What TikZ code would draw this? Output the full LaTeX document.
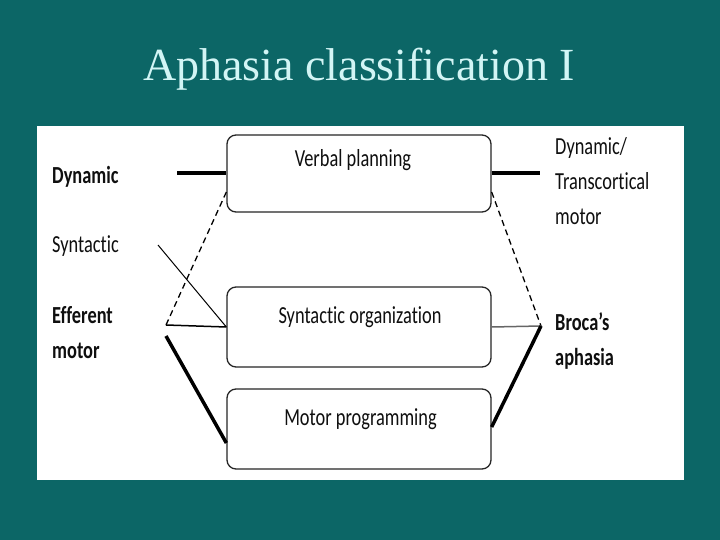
\documentclass[tikz,border=0pt]{standalone}
\usepackage{fontspec}
\setmainfont{Liberation Serif}
\newfontfamily\labfont[Ligatures=NoCommon]{Carlito}
\usepackage{graphicx}
\definecolor{tealbg}{RGB}{12,102,102}
\definecolor{titlec}{RGB}{210,245,245}
\definecolor{inkc}{RGB}{15,15,15}
\newcommand{\nar}[1]{\scalebox{0.75}[1]{#1}}
\begin{document}
\begin{tikzpicture}[x=1pt,y=-1pt,
  box/.style={draw=black!85, line width=1.3pt, rounded corners=9pt, minimum width=264pt, inner sep=0pt, fill=white},
  boxtext/.style={anchor=base, inner sep=0pt, text=inkc, font=\labfont\fontsize{24.5}{28}\selectfont},
  lab/.style={anchor=base west, inner sep=0pt, text=inkc, font=\labfont\fontsize{24.5}{35}\selectfont},
  thickln/.style={line width=4pt, black},
  medln/.style={line width=3.5pt, black},
  dashln/.style={line width=1.3pt, black, dash pattern=on 6pt off 4pt},
  thinln/.style={line width=1pt, black}]
\useasboundingbox (0,0) rectangle (720,540);
\fill[tealbg] (0,0) rectangle (720,540);
\node[anchor=base, inner sep=0pt, text=titlec, font=\fontsize{46}{50}\selectfont] (title) at (359,81) {Aphasia classification I};
\fill[white] (37,126) rectangle (684,480);
% boxes
\node[box, minimum height=77pt] (vp) at (359,173.5) {};
\node[box, minimum height=80pt] (so) at (359,327) {};
\node[box, minimum height=80pt] (mp) at (359,429) {};
\node[boxtext] (vpt) at (353,167) {\nar{Verbal planning}};
\node[boxtext] (sot) at (360,323) {\nar{Syntactic organization}};
\node[boxtext] (mpt) at (360.5,425) {\nar{Motor programming}};
% labels
\node[lab] (ldyn) at (52,184) {\nar{\bfseries Dynamic}};
\node[lab] (lsyn) at (52,252) {\nar{Syntactic}};
\node[lab] (leff) at (52,323) {\nar{\bfseries\begin{tabular}[t]{@{}l@{}}Efferent\\motor\end{tabular}}};
\node[lab] (rdyn) at (555,155) {\nar{\begin{tabular}[t]{@{}l@{}}Dynamic/\\Transcortical\\motor\end{tabular}}};
\node[lab] (rbro) at (555,330) {\nar{\bfseries\begin{tabular}[t]{@{}l@{}}Broca’s\\aphasia\end{tabular}}};
% coordinates
\coordinate (dynL) at (177,173.5);
\coordinate (dynR) at (540,173.5);
\coordinate (synS) at (158,245);
\coordinate (jL) at (166,325);
\coordinate (jL2) at (166,336);
\coordinate (jR) at (541,326);
\coordinate (vpLL) at ([yshift=-18.5pt]vp.west);
\coordinate (vpRR) at ([yshift=-18.5pt]vp.east);
\coordinate (mpL) at ([yshift=-14pt]mp.west);
\coordinate (mpR) at ([yshift=2pt]mp.east);
% connectors
\draw[thickln] (dynL) -- (vp.west);
\draw[thickln] (vp.east) -- (dynR);
\draw[dashln] (vpLL) -- (jL);
\draw[line width=1.5pt] (jL) -- (so.west);
\draw[thinln] (synS) -- (so.west);
\draw[medln] (jL2) -- (mpL);
\draw[dashln] (vpRR) -- (jR);
\draw[line width=1.5pt, black!60] (so.east) -- (jR);
\draw[medln] (jR) -- (mpR);
\end{tikzpicture}
\end{document}
